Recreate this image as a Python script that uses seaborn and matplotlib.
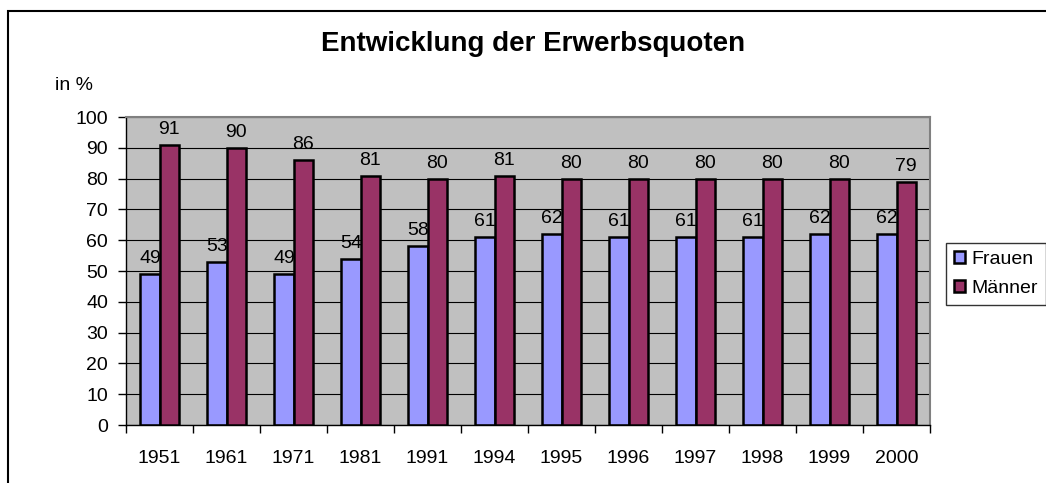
import numpy as np
import pandas as pd
import matplotlib
matplotlib.use("Agg")
import matplotlib.pyplot as plt
import seaborn as sns
from matplotlib.patches import Rectangle

jahre = ["1951", "1961", "1971", "1981", "1991", "1994", "1995", "1996", "1997", "1998", "1999", "2000"]
frauen = [49, 53, 49, 54, 58, 61, 62, 61, 61, 61, 62, 62]
maenner = [91, 90, 86, 81, 80, 81, 80, 80, 80, 80, 80, 79]
serien = ["Frauen", "Männer"]
farben = ["#9999FF", "#993366"]

df = pd.DataFrame({"Jahr": jahre * 2,
                   "Quote": frauen + maenner,
                   "Serie": [serien[0]] * len(jahre) + [serien[1]] * len(jahre)})

sns.set_theme(style="white")
plt.rcParams["font.family"] = ["Liberation Sans", "DejaVu Sans"]
plt.rcParams["text.color"] = "black"
plt.rcParams["xtick.color"] = "black"
plt.rcParams["ytick.color"] = "black"
plt.rcParams["axes.labelcolor"] = "black"

fig = plt.figure(figsize=(10.46, 4.83), dpi=100)
ax = fig.add_axes([126 / 1046, 1 - 425 / 483, 804 / 1046, 308 / 483])

sns.barplot(data=df, x="Jahr", y="Quote", hue="Serie", order=jahre, hue_order=serien,
            palette=farben, width=0.57, gap=0, saturation=1, ax=ax,
            edgecolor="black", linewidth=1.8, errorbar=None, legend=True)

ax.set_facecolor("#C0C0C0")
ax.set_ylim(0, 100)
ax.set_xlim(-0.5, len(jahre) - 0.5)
ax.set_yticks(np.arange(0, 101, 10))
ax.yaxis.grid(True, color="black", linewidth=0.8)
ax.set_axisbelow(True)
for s in ax.spines.values():
    s.set_color("#808080")
    s.set_linewidth(1.5)
ax.spines["left"].set_color("black")
ax.spines["bottom"].set_color("black")
ax.spines["left"].set_linewidth(1)
ax.spines["bottom"].set_linewidth(1)

# ticks between groups, labels centred
ax.set_xticks(np.arange(-0.5, len(jahre), 1))
ax.set_xticklabels([])
ax.set_xticks(np.arange(len(jahre)), minor=True)
ax.set_xticklabels(jahre, minor=True)
ax.tick_params(axis="x", which="major", length=5.5, width=1, color="black", direction="out", bottom=True)
ax.tick_params(axis="x", which="minor", length=0, pad=18, labelsize=14, labelcolor="black")
ax.tick_params(axis="y", length=6, width=1, color="black", direction="out", left=True,
               labelsize=14, pad=7, labelcolor="black")
ax.set_xlabel("")
ax.set_ylabel("")

# Männer bars in front of the Frauen labels
for p in ax.containers[1]:
    p.set_zorder(4)
ax.bar_label(ax.containers[0], fontsize=14, padding=5, zorder=3, color="black")
ax.bar_label(ax.containers[1], fontsize=14, padding=5, zorder=5, color="black")

leg = ax.legend(loc="center left", bbox_to_anchor=(946 / 1046, 1 - 274 / 483),
                bbox_transform=fig.transFigure, frameon=True, fontsize=14,
                handlelength=0.6, handleheight=0.6, handletextpad=0.3,
                borderpad=0.4, labelspacing=0.6, fancybox=False, borderaxespad=0)
leg.get_frame().set_edgecolor("black")
leg.get_frame().set_linewidth(1)
for t in leg.get_texts():
    t.set_color("black")

fig.text(533 / 1046, 1 - 44 / 483, "Entwicklung der Erwerbsquoten", ha="center", va="center",
         fontsize=20, fontweight="bold", color="black")
fig.text(55 / 1046, 1 - 86 / 483, "in %", ha="left", va="center", fontsize=14, color="black")

fig.patches.append(Rectangle((8 / 1046, -0.1), 1.2, 1 - 11 / 483 + 0.1, transform=fig.transFigure,
                             fill=False, edgecolor="black", linewidth=1.5))

fig.savefig("out.png", dpi=100)
